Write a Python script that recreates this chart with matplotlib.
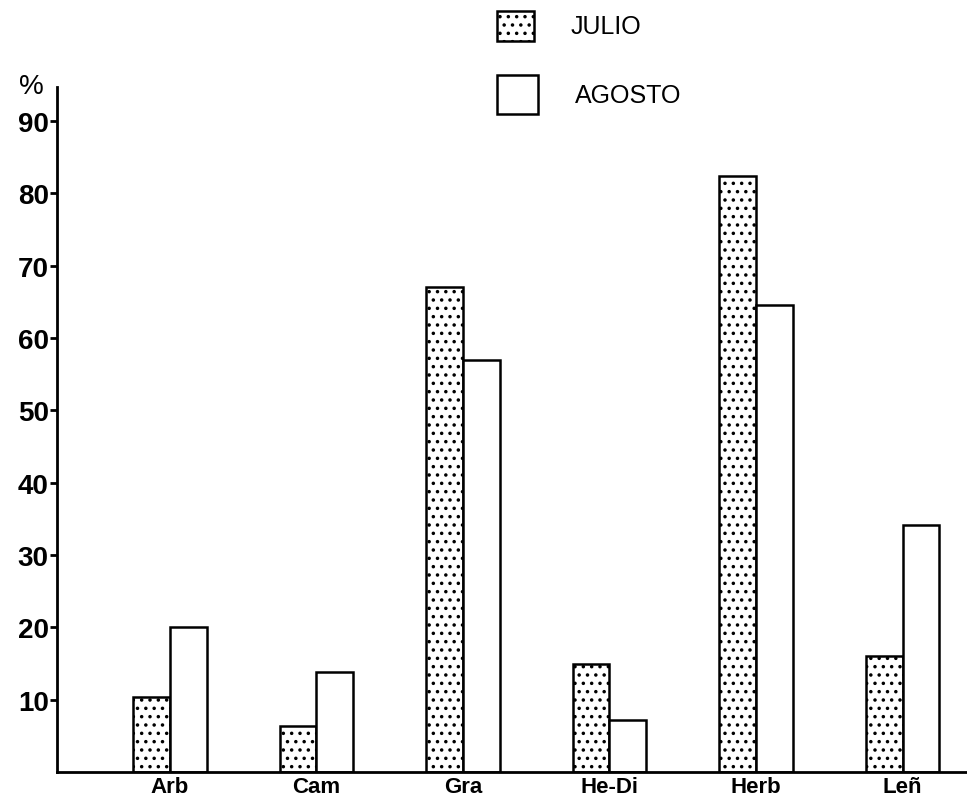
import matplotlib.pyplot as plt
from matplotlib.patches import Rectangle
import numpy as np

plt.rcParams['font.family'] = ['Liberation Sans', 'DejaVu Sans']
plt.rcParams['hatch.linewidth'] = 1.3

categorias = ['Arb', 'Cam', 'Gra', 'He-Di', 'Herb', 'Leñ']
julio = [10.3, 6.3, 67.0, 14.9, 82.4, 16.1]
agosto = [20.0, 13.8, 57.0, 7.2, 64.5, 34.1]
yticks = [10, 20, 30, 40, 50, 60, 70, 80, 90]

fig = plt.figure(figsize=(9.67, 8.04), dpi=100)
ax = fig.add_axes([0.059, 0.0386, 0.941, 0.852])

x = np.arange(len(categorias))
w = 0.25
ax.bar(x - w / 2, julio, width=w, facecolor='white', edgecolor='black',
       linewidth=1.8, hatch='..')
ax.bar(x + w / 2, agosto, width=w, facecolor='white', edgecolor='black',
       linewidth=1.8)

ax.set_xlim(-0.77, 5.44)
ax.set_ylim(0, 94.7)
ax.spines['top'].set_visible(False)
ax.spines['right'].set_visible(False)
ax.spines['left'].set_linewidth(2)
ax.spines['bottom'].set_linewidth(2)

ax.set_yticks(yticks)
ax.set_yticklabels([str(v) for v in yticks], fontsize=20, fontweight='bold')
ax.tick_params(axis='y', length=5, width=2, pad=1)
ax.set_xticks(x)
ax.set_xticklabels(categorias, fontsize=16, fontweight='bold')
ax.tick_params(axis='x', length=0, pad=3)

fig.text(0.020, 0.875, '%', fontsize=20, ha='left', va='bottom')

# leyenda dibujada a mano
fig.add_artist(Rectangle((0.514, 0.948), 0.038, 0.037, transform=fig.transFigure,
                         facecolor='white', edgecolor='black', linewidth=1.8,
                         hatch='..'))
fig.add_artist(Rectangle((0.514, 0.857), 0.042, 0.048, transform=fig.transFigure,
                         facecolor='white', edgecolor='black', linewidth=1.8))
fig.text(0.590, 0.966, 'JULIO', fontsize=18, va='center')
fig.text(0.595, 0.880, 'AGOSTO', fontsize=18, va='center')

fig.savefig('out.png', dpi=100)
